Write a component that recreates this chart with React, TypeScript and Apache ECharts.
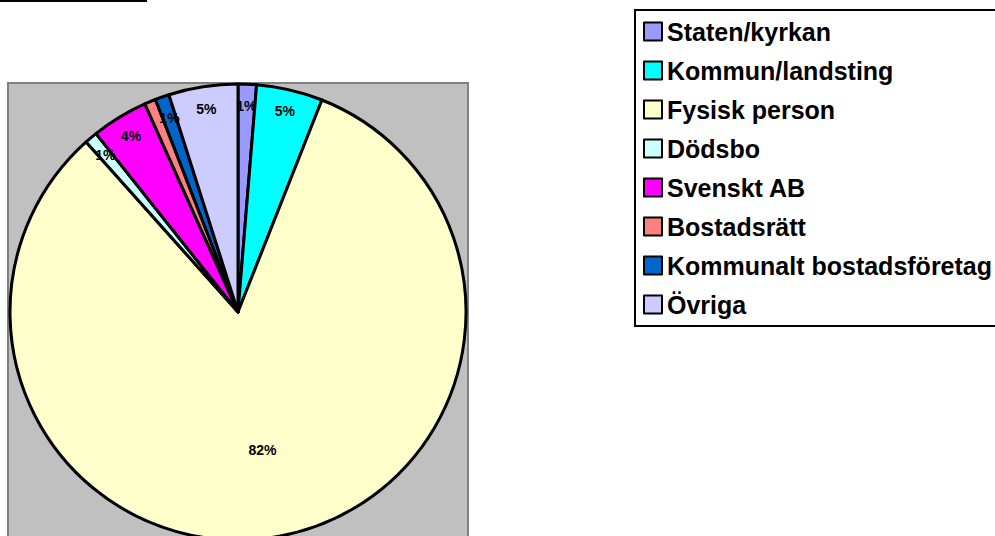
import React, { useEffect, useRef } from "react";
import * as echarts from "echarts";

const categories = [
  "Staten/kyrkan",
  "Kommun/landsting",
  "Fysisk person",
  "Dödsbo",
  "Svenskt AB",
  "Bostadsrätt",
  "Kommunalt bostadsföretag",
  "Övriga",
];
const shares = [1.3, 4.7, 82.4, 0.9, 4.0, 0.8, 1.0, 4.9];
const colors = [
  "#9999FF",
  "#00FFFF",
  "#FFFFCC",
  "#CCFFFF",
  "#FF00FF",
  "#FF8080",
  "#0066CC",
  "#CCCCFF",
];

const FONT = "'Liberation Sans', Arial, Helvetica, sans-serif";
const CX = 238;
const CY = 312;
const R = 228;

export default function App() {
  const ref = useRef<HTMLDivElement>(null);
  useEffect(() => {
    if (!ref.current) return;
    const chart = echarts.init(ref.current, null, { renderer: "svg" });
    const fmt = (p: any) => Math.round(p.percent) + "%";
    const labelStyle = {
      position: "inside",
      formatter: fmt,
      fontFamily: FONT,
      fontWeight: "bold",
      fontSize: 14,
      color: "#000",
    };
    const overlay = (radius: any[], pick: (v: number) => boolean) => ({
      type: "pie",
      center: [CX, CY],
      radius,
      startAngle: 90,
      silent: true,
      legendHoverLink: false,
      emphasis: { disabled: true },
      itemStyle: { color: "rgba(0,0,0,0)", borderWidth: 0 },
      labelLine: { show: false },
      label: { ...labelStyle, show: false },
      data: categories.map((c, i) => ({
        name: c,
        value: shares[i],
        label: { show: pick(shares[i]) },
      })),
      z: 5,
    });
    chart.setOption({
      animation: false,
      backgroundColor: "#fff",
      graphic: [
        {
          type: "rect",
          shape: { x: 0, y: 0, width: 147, height: 2 },
          style: { fill: "#000" },
        },
        {
          type: "rect",
          z: 0,
          shape: { x: 8, y: 83, width: 460, height: 470 },
          style: { fill: "#C0C0C0", stroke: "#808080", lineWidth: 2 },
        },
      ],
      legend: {
        orient: "vertical",
        left: 635,
        top: 10,
        data: categories,
        selectedMode: false,
        icon: "rect",
        itemWidth: 18,
        itemHeight: 18,
        itemGap: 14,
        padding: [9, 30, 9, 8],
        borderColor: "#000",
        borderWidth: 2,
        backgroundColor: "#fff",
        itemStyle: { borderColor: "#000", borderWidth: 2 },
        textStyle: {
          fontFamily: FONT,
          fontWeight: "bold",
          fontSize: 25,
          color: "#000",
          lineHeight: 25,
        },
      },
      series: [
        {
          type: "pie",
          center: [CX, CY],
          radius: [0, R],
          startAngle: 90,
          clockwise: true,
          silent: true,
          emphasis: { disabled: true },
          label: { show: false },
          labelLine: { show: false },
          itemStyle: { borderColor: "#000", borderWidth: 3 },
          data: categories.map((c, i) => ({
            name: c,
            value: shares[i],
            itemStyle: { color: colors[i] },
          })),
          z: 2,
        },
        overlay([R * 0.8, R * 0.98], (v) => v < 50),
        overlay([R * 0.2, R], (v) => v >= 50),
      ],
    });
    return () => chart.dispose();
  }, []);
  return (
    <div
      ref={ref}
      style={{ position: "fixed", left: 0, top: 0, width: 995, height: 536 }}
    />
  );
}
